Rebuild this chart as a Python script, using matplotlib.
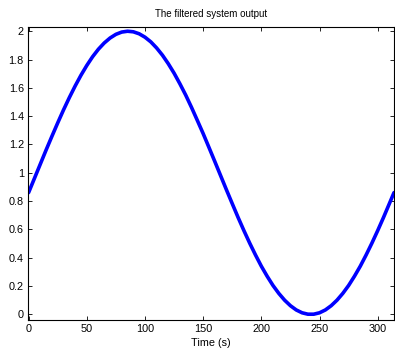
import matplotlib
matplotlib.use("Agg")
import matplotlib.pyplot as plt

plt.rcParams['font.family'] = ['Liberation Sans', 'DejaVu Sans']

time_s = [0, 5, 10, 15, 20, 25, 30, 35, 40, 45, 50, 55, 60, 65, 70, 75, 80, 85,
          90, 95, 100, 105, 110, 115, 120, 125, 130, 135, 140, 145, 150, 155,
          160, 165, 170, 175, 180, 185, 190, 195, 200, 205, 210, 215, 220, 225,
          230, 235, 240, 245, 250, 255, 260, 265, 270, 275, 280, 285, 290, 295,
          300, 305, 310, 314]
output = [0.860, 0.960, 1.060, 1.160, 1.257, 1.352, 1.444, 1.531, 1.613, 1.689,
          1.758, 1.820, 1.873, 1.917, 1.952, 1.978, 1.994, 2.000, 1.996, 1.982,
          1.958, 1.925, 1.882, 1.831, 1.771, 1.704, 1.629, 1.549, 1.462, 1.370,
          1.277, 1.179, 1.080, 0.980, 0.880, 0.782, 0.685, 0.592, 0.503, 0.419,
          0.340, 0.269, 0.204, 0.148, 0.100, 0.061, 0.031, 0.011, 0.001, 0.001,
          0.011, 0.031, 0.061, 0.100, 0.148, 0.204, 0.269, 0.340, 0.419, 0.503,
          0.592, 0.685, 0.782, 0.860]
xticks = [0, 50, 100, 150, 200, 250, 300]
yticks = [0, 0.2, 0.4, 0.6, 0.8, 1, 1.2, 1.4, 1.6, 1.8, 2]
ytick_labels = ['0', '0.2', '0.4', '0.6', '0.8', '1', '1.2', '1.4', '1.6', '1.8', '2']

fig = plt.figure(figsize=(3.95, 3.5), dpi=100)
ax = fig.add_axes([0.0709, 0.0857, 0.9266, 0.8372])
ax.plot(time_s, output, color='#0000ff', linewidth=2.6,
        solid_joinstyle='round', solid_capstyle='round')
ax.set_xlim(-0.5, 314)
ax.set_ylim(-0.04, 2.03)
ax.set_xticks(xticks)
ax.set_yticks(yticks)
ax.set_yticklabels(ytick_labels)
ax.tick_params(direction='in', length=3, width=0.6, top=True, right=True,
               labelsize=7.8, pad=3)
for s in ax.spines.values():
    s.set_linewidth(0.8)
ax.set_title('The filtered system output', fontsize=7, pad=7)
ax.set_xlabel('Time (s)', fontsize=7.8, labelpad=3)
fig.savefig('out.png', dpi=100)
